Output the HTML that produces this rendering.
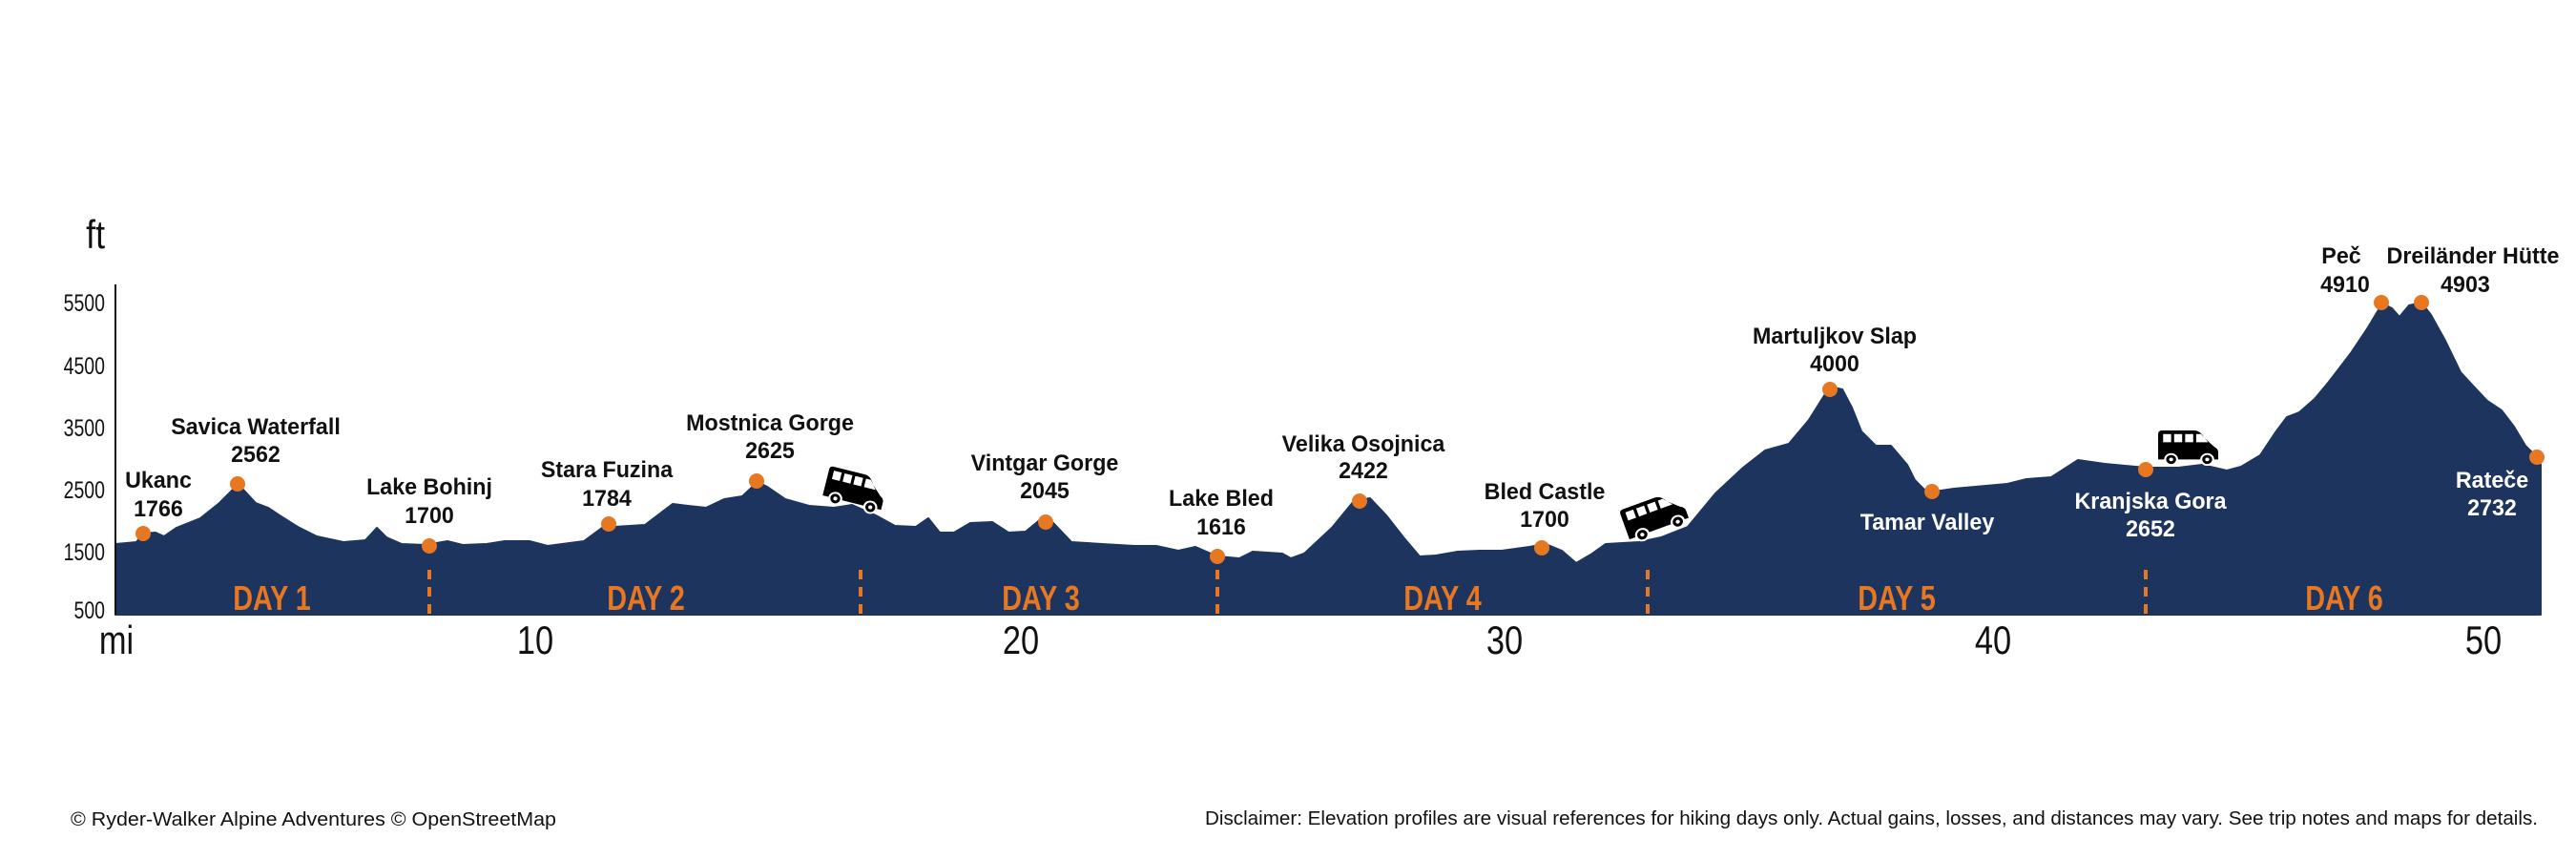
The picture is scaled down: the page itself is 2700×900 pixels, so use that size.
<!DOCTYPE html>
<html><head><meta charset="utf-8"><style>
html,body{margin:0;padding:0;background:#fff;}
svg{display:block;}
.lb{font-family:"Liberation Sans",sans-serif;font-weight:bold;font-size:24px;fill:#111;text-anchor:middle;}
.wl{fill:#fff;}
.tk{font-family:"Liberation Sans",sans-serif;font-size:25px;fill:#111;text-anchor:end;}
.xt{font-family:"Liberation Sans",sans-serif;font-size:42px;fill:#111;text-anchor:middle;}
.day{font-family:"Liberation Sans",sans-serif;font-weight:bold;font-size:36px;fill:#e87722;text-anchor:middle;}
.ft{font-family:"Liberation Sans",sans-serif;font-size:20px;fill:#111;}
</style></head><body>
<svg width="2700" height="900" viewBox="0 0 2700 900" xmlns="http://www.w3.org/2000/svg">
<defs>
<g id="van">
<path d="M0,4 Q0,0 4,0 L36,0 Q42,0 46,8 L56,18 Q60,20 60,24 L60,32 L0,32 Z" fill="#000"/>
<rect x="5" y="4" width="8" height="9" fill="#fff"/><rect x="16" y="4" width="8" height="9" fill="#fff"/><rect x="27" y="4" width="8" height="9" fill="#fff"/>
<path d="M38,4 L43,4 L50,13 L38,13 Z" fill="#fff"/>
<circle cx="13" cy="32" r="6" fill="#000" stroke="#fff" stroke-width="2"/><circle cx="13" cy="32" r="2" fill="#fff"/>
<circle cx="49" cy="32" r="6" fill="#000" stroke="#fff" stroke-width="2"/><circle cx="49" cy="32" r="2" fill="#fff"/>
</g>
</defs>
<path fill="#1d355e" stroke="#1d355e" stroke-width="2" stroke-linejoin="round" d="M121,644 L121,570 L143,568 L150,559 L163,558 L172,562 L185,553 L210,543 L230,527 L245,512 L255,513 L268,527 L281,532 L293,540 L312,552 L332,562 L360,568 L383,566 L395,553 L405,563 L421,570 L446,571 L469,567 L485,571 L510,570 L529,567 L555,567 L574,572 L612,567 L631,553 L644,552 L676,550 L705,528 L721,530 L740,532 L759,523 L778,520 L794,505 L804,510 L823,523 L848,530 L874,532 L893,529 L918,540 L938,551 L960,552 L973,543 L985,558 L1000,558 L1017,548 L1040,547 L1057,558 L1075,557 L1092,543 L1103,547 L1123,568 L1155,570 L1189,572 L1212,572 L1235,577 L1253,573 L1276,583 L1299,585 L1313,578 L1344,580 L1353,585 L1367,580 L1396,553 L1419,525 L1436,522 L1453,540 L1471,563 L1488,583 L1505,582 L1528,578 L1551,577 L1574,577 L1603,573 L1620,570 L1637,577 L1652,590 L1669,580 L1683,570 L1718,568 L1741,563 L1769,552 L1798,517 L1827,490 L1850,472 L1875,465 L1896,440 L1918,405 L1931,408 L1941,427 L1951,452 L1966,467 L1982,467 L1999,487 L2007,503 L2017,513 L2028,515 L2048,512 L2104,507 L2124,502 L2150,500 L2178,482 L2206,486 L2249,490 L2283,490 L2308,487 L2334,493 L2349,489 L2369,477 L2385,453 L2397,437 L2410,432 L2426,418 L2441,400 L2464,370 L2482,343 L2497,318 L2507,323 L2515,332 L2525,320 L2538,317 L2548,330 L2563,357 L2579,390 L2591,403 L2607,420 L2622,430 L2635,447 L2647,467 L2660,480 L2663,487 L2663,644 Z"/>
<line x1="121" y1="298" x2="121" y2="644" stroke="#111" stroke-width="2"/>
<g stroke="#e87722" stroke-width="4" stroke-dasharray="10,8">
<line x1="450" y1="597" x2="450" y2="644"/><line x1="902" y1="597" x2="902" y2="644"/><line x1="1276" y1="597" x2="1276" y2="644"/><line x1="1727" y1="597" x2="1727" y2="644"/><line x1="2249" y1="597" x2="2249" y2="644"/>
</g>
<g class="day">
<text transform="translate(285,639) scale(0.8,1)">DAY 1</text><text transform="translate(677,639) scale(0.8,1)">DAY 2</text><text transform="translate(1091,639) scale(0.8,1)">DAY 3</text><text transform="translate(1512,639) scale(0.8,1)">DAY 4</text><text transform="translate(1988,639) scale(0.8,1)">DAY 5</text><text transform="translate(2457,639) scale(0.8,1)">DAY 6</text>
</g>
<text transform="translate(110,260) scale(0.85,1)" class="tk" style="font-size:42px">ft</text>
<g class="tk">
<text transform="translate(110,326) scale(0.78,1)">5500</text><text transform="translate(110,392) scale(0.78,1)">4500</text><text transform="translate(110,457) scale(0.78,1)">3500</text><text transform="translate(110,522) scale(0.78,1)">2500</text><text transform="translate(110,587) scale(0.78,1)">1500</text><text transform="translate(110,648) scale(0.78,1)">500</text>
</g>
<g class="xt">
<text transform="translate(122,685) scale(0.82,1)">mi</text><text transform="translate(561,685) scale(0.82,1)">10</text><text transform="translate(1070,685) scale(0.82,1)">20</text><text transform="translate(1577,685) scale(0.82,1)">30</text><text transform="translate(2089,685) scale(0.82,1)">40</text><text transform="translate(2603,685) scale(0.82,1)">50</text>
</g>
<g fill="#e87722">
<circle cx="150" cy="559" r="8"/><circle cx="249" cy="507" r="8"/><circle cx="450" cy="572" r="8"/><circle cx="638" cy="549" r="8"/><circle cx="793" cy="504" r="8"/><circle cx="1096" cy="547" r="8"/><circle cx="1276" cy="583" r="8"/><circle cx="1425" cy="525" r="8"/><circle cx="1616" cy="574" r="8"/><circle cx="1918" cy="408" r="8"/><circle cx="2025" cy="515" r="8"/><circle cx="2249" cy="492" r="8"/><circle cx="2496" cy="317" r="8"/><circle cx="2538" cy="317" r="8"/><circle cx="2659" cy="479" r="8"/>
</g>
<g class="lb">
<text transform="translate(166,511) scale(0.97,1)">Ukanc</text><text transform="translate(166,541) scale(0.97,1)">1766</text>
<text transform="translate(268,455) scale(0.97,1)">Savica Waterfall</text><text transform="translate(268,484) scale(0.97,1)">2562</text>
<text transform="translate(450,518) scale(0.97,1)">Lake Bohinj</text><text transform="translate(450,548) scale(0.97,1)">1700</text>
<text transform="translate(636,500) scale(0.97,1)">Stara Fuzina</text><text transform="translate(636,530) scale(0.97,1)">1784</text>
<text transform="translate(807,451) scale(0.97,1)">Mostnica Gorge</text><text transform="translate(807,480) scale(0.97,1)">2625</text>
<text transform="translate(1095,493) scale(0.97,1)">Vintgar Gorge</text><text transform="translate(1095,522) scale(0.97,1)">2045</text>
<text transform="translate(1280,530) scale(0.97,1)">Lake Bled</text><text transform="translate(1280,560) scale(0.97,1)">1616</text>
<text transform="translate(1429,473) scale(0.97,1)">Velika Osojnica</text><text transform="translate(1429,501) scale(0.97,1)">2422</text>
<text transform="translate(1619,523) scale(0.97,1)">Bled Castle</text><text transform="translate(1619,552) scale(0.97,1)">1700</text>
<text transform="translate(1923,360) scale(0.97,1)">Martuljkov Slap</text><text transform="translate(1923,389) scale(0.97,1)">4000</text>
<text transform="translate(2454,276) scale(0.97,1)">Peč</text><text transform="translate(2458,306) scale(0.97,1)">4910</text>
<text transform="translate(2592,276) scale(0.97,1)">Dreiländer Hütte</text><text transform="translate(2584,306) scale(0.97,1)">4903</text>
<text transform="translate(2020,555) scale(0.97,1)" class="lb wl">Tamar Valley</text>
<text transform="translate(2254,533) scale(0.97,1)" class="lb wl">Kranjska Gora</text><text transform="translate(2254,562) scale(0.97,1)" class="lb wl">2652</text>
<text transform="translate(2612,511) scale(0.97,1)" class="lb wl">Rateče</text><text transform="translate(2612,540) scale(0.97,1)" class="lb wl">2732</text>
</g>
<use href="#van" transform="translate(870,488) rotate(14) scale(1.05,1)"/>
<use href="#van" transform="translate(1697,535) rotate(-20) scale(1.1,1)"/>
<use href="#van" transform="translate(2262,451) scale(1.05,0.95)"/>
<text x="74" y="865" class="ft" textLength="509" lengthAdjust="spacingAndGlyphs">© Ryder-Walker Alpine Adventures © OpenStreetMap</text>
<text x="1263" y="864" class="ft" textLength="1397" lengthAdjust="spacingAndGlyphs">Disclaimer: Elevation profiles are visual references for hiking days only. Actual gains, losses, and distances may vary. See trip notes and maps for details.</text>
</svg>
</body></html>
